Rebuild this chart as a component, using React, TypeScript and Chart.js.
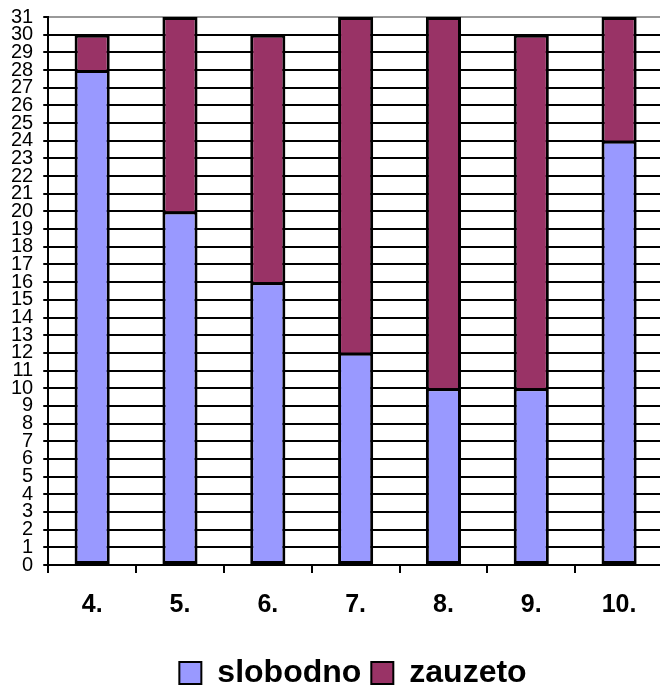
import React, { useEffect, useRef } from "react";
import { Chart, registerables } from "chart.js";
Chart.register(...registerables);

const categories = ["4.", "5.", "6.", "7.", "8.", "9.", "10."];
const slobodno = [28, 20, 16, 12, 10, 10, 24];
const zauzeto = [2, 11, 14, 19, 21, 20, 7];
const seriesNames = ["slobodno", "zauzeto"];
const seriesColors = ["#9999FF", "#993366"];
const yMax = 31;

const FONT = "'Liberation Sans', Arial, sans-serif";

const legendShift = {
  id: "legendShift",
  afterLayout(chart: any) {
    const lg = chart.legend;
    if (lg) {
      lg.left += 21;
      lg.right += 21;
    }
  },
};

export default function App() {
  const ref = useRef<HTMLCanvasElement>(null);
  useEffect(() => {
    const chart = new Chart(ref.current!, {
      type: "bar",
      plugins: [legendShift],
      data: {
        labels: categories,
        datasets: [
          {
            label: seriesNames[0],
            data: slobodno,
            backgroundColor: seriesColors[0],
            borderColor: "#000",
            borderWidth: 3,
            borderSkipped: false,
            categoryPercentage: 0.8,
            barPercentage: 0.5,
          },
          {
            label: seriesNames[1],
            data: zauzeto,
            backgroundColor: seriesColors[1],
            borderColor: "#000",
            borderWidth: { top: 3, left: 3, right: 3, bottom: 0 },
            borderSkipped: false,
            categoryPercentage: 0.8,
            barPercentage: 0.5,
          },
        ],
      },
      options: {
        animation: false,
        responsive: false,
        devicePixelRatio: 1,
        layout: { padding: { left: 1, right: 1, top: 17, bottom: 0 } },
        plugins: {
          tooltip: { enabled: false },
          legend: {
            position: "bottom",
            labels: {
              color: "#000",
              font: { family: FONT, size: 32, weight: "bold" },
              boxWidth: 22,
              boxHeight: 22,
              padding: 10,
              generateLabels: (c: any) =>
                c.data.datasets.map((d: any, i: number) => ({
                  text: d.label,
                  fillStyle: d.backgroundColor,
                  strokeStyle: "#000",
                  lineWidth: 2,
                  hidden: false,
                  datasetIndex: i,
                  fontColor: "#000",
                })),
            },
          },
        },
        scales: {
          x: {
            stacked: true,
            offset: true,
            grid: {
              offset: true,
              drawOnChartArea: false,
              drawTicks: true,
              tickLength: 8,
              color: "#000",
              lineWidth: 2,
            },
            border: { color: "#000", width: 2 },
            ticks: {
              color: "#000",
              font: { family: FONT, size: 25, weight: "bold" },
              padding: 17,
            },
            afterFit: (s: any) => {
              s.height += 10;
            },
          },
          y: {
            stacked: true,
            min: 0,
            max: yMax,
            grid: {
              color: (ctx: any) => (ctx.tick && ctx.tick.value === yMax ? "#999999" : "#000"),
              tickColor: "#000",
              lineWidth: 2,
              tickLength: 5,
            },
            border: { color: "#000", width: 2 },
            ticks: {
              stepSize: 1,
              autoSkip: false,
              color: "#000",
              font: { family: FONT, size: 20 },
              padding: 10,
            },
            afterFit: (s: any) => {
              s.paddingTop = 0;
            },
          },
        },
      },
    });
    return () => chart.destroy();
  }, []);
  return (
    <div
      style={{
        position: "absolute",
        left: 0,
        top: 0,
        width: 660,
        height: 685,
        overflow: "hidden",
        background: "#fff",
      }}
    >
      <canvas ref={ref} width={664} height={699} style={{ display: "block" }} />
    </div>
  );
}
